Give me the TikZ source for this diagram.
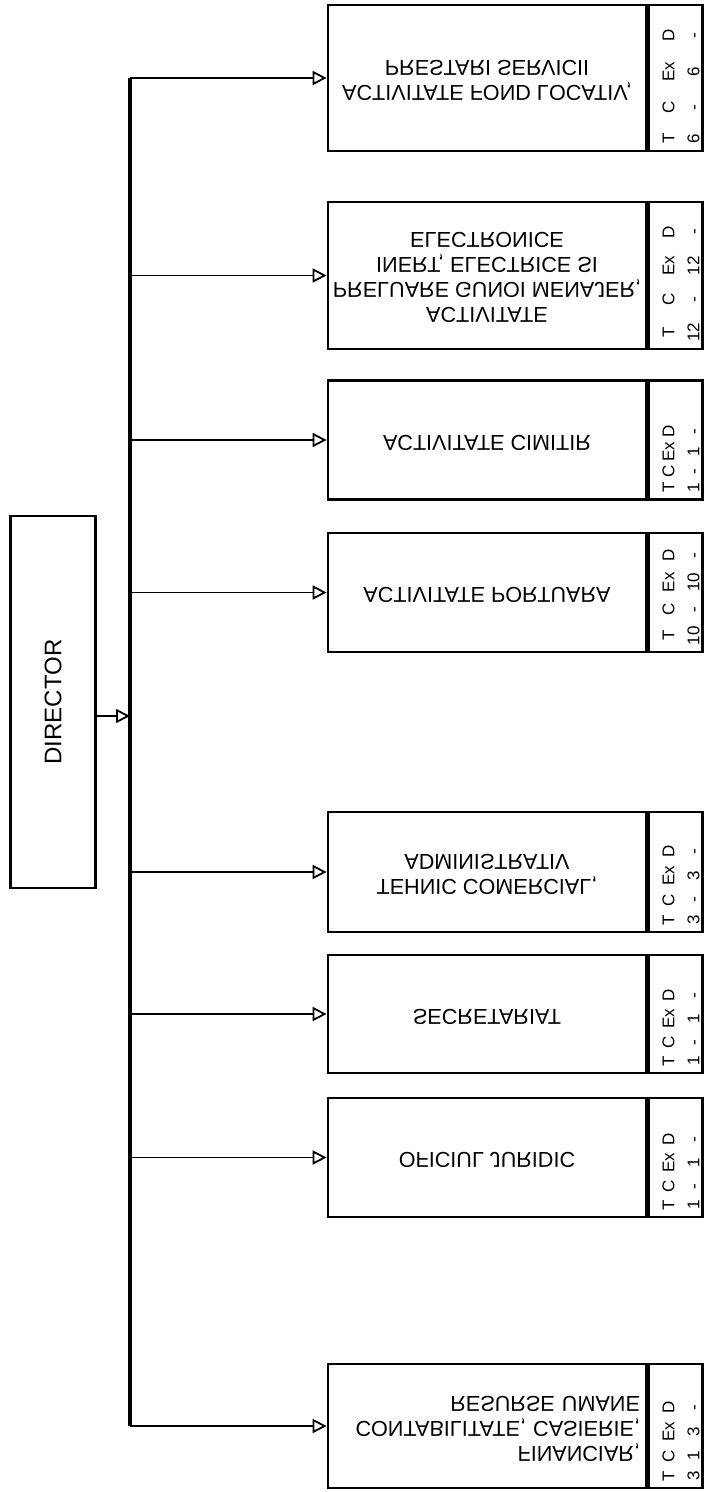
\documentclass[tikz,border=0pt]{standalone}
\usepackage{fontspec}
\setmainfont{Liberation Sans}
\usepackage{graphicx}
\usepackage{tikz}
\usetikzlibrary{arrows.meta, positioning}

\newcommand{\flipped}[2][c]{\scalebox{1}[-1]{\begin{tabular}{@{}#1@{}}#2\end{tabular}}}
\newcommand{\tcexd}[5]{{\setlength{\tabcolsep}{#1}\begin{tabular}{@{}cccc@{}}T&C&Ex&D\\#2&#3&#4&#5\end{tabular}}}

\tikzstyle{boss} = [rectangle, minimum width=42.5pt, minimum height=186pt, draw=black, line width=1.4pt, font=\fontsize{12}{14}\selectfont]
\tikzstyle{dept} = [rectangle, minimum width=159pt, inner sep=2pt, draw=black, line width=1.4pt, font=\fontsize{10.8}{12.5}\selectfont]
\tikzstyle{strip} = [rectangle, minimum width=27pt, draw=black, line width=1.4pt]
\tikzstyle{nums} = [rotate=90, anchor=west, inner sep=4pt, font=\fontsize{8.5}{12.5}\selectfont]
\tikzstyle{busline} = [line width=1.8pt]
\tikzstyle{arrow} = [line width=0.8pt,->,>={Triangle[open,length=7pt,width=7pt,line width=0.9pt]}]

\begin{document}
\begin{tikzpicture}[x=0.5pt, y=-0.5pt]
\useasboundingbox (0,0) rectangle (703,1492);

\node (dir) [boss] at (53,702) {\rotatebox{90}{DIRECTOR}};
\coordinate (bus) at (130,0);

\node (b1) [dept, minimum height=73pt] at (487,78) {\flipped{ACTIVITATE FOND LOCATIV,\\PRESTARI SERVICII}};
\node (s1) [strip, minimum height=73pt, right=0pt of b1] {};
\node (n1) [nums] at ([xshift=3pt]s1.south) {\tcexd{5pt}{6}{-}{6}{-}};

\node (b2) [dept, minimum height=73.5pt] at (487,275.5) {\flipped{ACTIVITATE\\PRELUARE GUNOI MENAJER,\\INERT, ELECTRICE SI\\ELECTRONICE}};
\node (s2) [strip, minimum height=73.5pt, right=0pt of b2] {};
\node (n2) [nums] at ([xshift=3pt]s2.south) {\tcexd{4.4pt}{12}{-}{12}{-}};

\node (b3) [dept, minimum height=59.5pt] at (487,440) {\flipped{ACTIVITATE CIMITIR}};
\node (s3) [strip, minimum height=59.5pt, right=0pt of b3] {};
\node (n3) [nums] at ([xshift=3pt]s3.south) {\tcexd{1.05pt}{1}{-}{1}{-}};

\node (b4) [dept, minimum height=59.5pt] at (487,592.5) {\flipped{ACTIVITATE PORTUARA}};
\node (s4) [strip, minimum height=59.5pt, right=0pt of b4] {};
\node (n4) [nums] at ([xshift=3pt]s4.south) {\tcexd{2.7pt}{10}{-}{10}{-}};

\node (b5) [dept, minimum height=60pt] at (487,872) {\flipped{TEHNIC COMERCIAL,\\ADMINISTRATIV}};
\node (s5) [strip, minimum height=60pt, right=0pt of b5] {};
\node (n5) [nums] at ([xshift=3pt]s5.south) {\tcexd{2.1pt}{3}{-}{3}{-}};

\node (b6) [dept, minimum height=59pt] at (487,1014) {\flipped{SECRETARIAT}};
\node (s6) [strip, minimum height=59pt, right=0pt of b6] {};
\node (n6) [nums] at ([xshift=3pt]s6.south) {\tcexd{1.8pt}{1}{-}{1}{-}};

\node (b7) [dept, minimum height=59.5pt] at (487,1157.5) {\flipped{OFICIUL JURIDIC}};
\node (s7) [strip, minimum height=59.5pt, right=0pt of b7] {};
\node (n7) [nums] at ([xshift=3pt]s7.south) {\tcexd{1.8pt}{1}{-}{1}{-}};

\node (b8) [dept, minimum height=62pt, text width=153pt, align=right] at (487,1426) {\flipped[r]{FINANCIAR,\\CONTABILITATE, CASIERIE,\\RESURSE UMANE}};
\node (s8) [strip, minimum height=62pt, right=0pt of b8] {};
\node (n8) [nums] at ([xshift=3pt]s8.south) {\tcexd{2.1pt}{3}{1}{3}{-}};

\draw [busline] (b1.west -| bus) -- (b8.west -| bus);
\draw [arrow] ([yshift=-7pt]dir.east) -- ([yshift=-7pt]dir.east -| bus);

\draw [arrow] (b1.west -| bus) -- (b1.west);
\draw [arrow] (b2.west -| bus) -- (b2.west);
\draw [arrow] (b3.west -| bus) -- (b3.west);
\draw [arrow] (b4.west -| bus) -- (b4.west);
\draw [arrow] (b5.west -| bus) -- (b5.west);
\draw [arrow] (b6.west -| bus) -- (b6.west);
\draw [arrow] (b7.west -| bus) -- (b7.west);
\draw [arrow] (b8.west -| bus) -- (b8.west);

\end{tikzpicture}
\end{document}
